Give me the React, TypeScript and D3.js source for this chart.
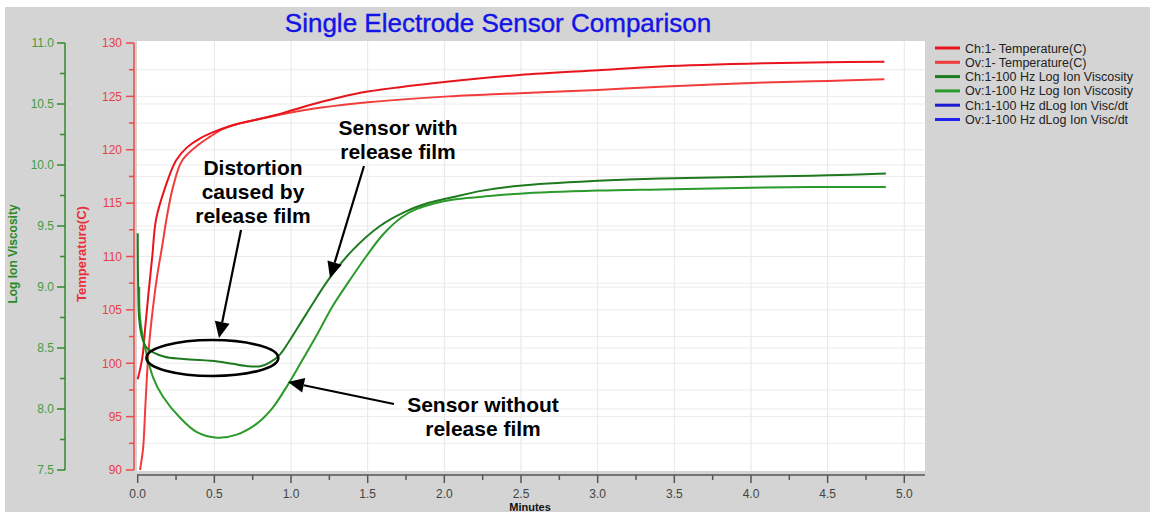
import React from 'react';
import * as d3 from 'd3';

// ---------- DATA ----------
const xTicks = [0, 0.5, 1, 1.5, 2, 2.5, 3, 3.5, 4, 4.5, 5];
const xMinorTicks = [0.25, 0.75, 1.25, 1.75, 2.25, 2.75, 3.25, 3.75, 4.25, 4.75];
const tempTicks = [90, 95, 100, 105, 110, 115, 120, 125, 130];
const tempMinorTicks = [92.5, 97.5, 102.5, 107.5, 112.5, 117.5, 122.5, 127.5];
const viscTicks = [7.5, 8.0, 8.5, 9.0, 9.5, 10.0, 10.5, 11.0];
const viscMinorTicks = [7.75, 8.25, 8.75, 9.25, 9.75, 10.25, 10.75];

// Ch:1 Temperature (minutes, °C)
const chTempMin = [0, 0.03, 0.05, 0.07, 0.095, 0.12, 0.18, 0.25, 0.32, 0.41, 0.52, 0.62, 0.8, 0.95, 1.1, 1.3, 1.5, 2.03, 2.49, 3.0, 3.41, 4.09, 4.5, 4.87];
const chTempVal = [98.5, 100.5, 103.5, 106.5, 110, 113.5, 116.5, 119.0, 120.2, 121.1, 121.8, 122.3, 122.9, 123.45, 124.1, 124.85, 125.45, 126.4, 127.0, 127.45, 127.8, 128.1, 128.2, 128.25];
// Ov:1 Temperature
const ovTempMin = [0.015, 0.035, 0.05, 0.07, 0.09, 0.125, 0.16, 0.19, 0.23, 0.29, 0.39, 0.47, 0.55, 0.62, 0.8, 0.95, 1.2, 1.5, 2.03, 2.49, 3.0, 3.41, 4.09, 4.5, 4.87];
const ovTempVal = [90, 92, 96, 101, 104, 108, 111, 113.7, 116.5, 119.0, 120.4, 121.2, 121.9, 122.3, 122.9, 123.35, 123.95, 124.45, 125.0, 125.3, 125.6, 125.9, 126.3, 126.45, 126.6];
// Ch:1 Log Ion Viscosity (sensor with release film)
const chViscMin = [0, 0.003, 0.01, 0.028, 0.06, 0.17, 0.3, 0.52, 0.62, 0.73, 0.8, 0.86, 0.93, 0.99, 1.1, 1.25, 1.4, 1.58, 1.75, 1.9, 2.05, 2.25, 2.49, 3.0, 3.41, 4.09, 4.5, 4.88];
const chViscVal = [9.44, 9.0, 8.73, 8.59, 8.5, 8.43, 8.41, 8.39, 8.37, 8.35, 8.35, 8.38, 8.45, 8.56, 8.78, 9.07, 9.3, 9.5, 9.62, 9.69, 9.735, 9.79, 9.83, 9.87, 9.89, 9.905, 9.915, 9.93];
// Ov:1 Log Ion Viscosity (sensor without release film)
const ovViscMin = [0.01, 0.015, 0.047, 0.1, 0.165, 0.275, 0.386, 0.516, 0.646, 0.777, 0.88, 0.98, 1.06, 1.17, 1.27, 1.38, 1.49, 1.6, 1.72, 1.82, 1.92, 2.05, 2.25, 2.49, 3.0, 3.41, 4.09, 4.5, 4.88];
const ovViscVal = [9.0, 8.75, 8.51, 8.26, 8.1, 7.93, 7.81, 7.765, 7.79, 7.88, 8.01, 8.2, 8.37, 8.61, 8.84, 9.05, 9.25, 9.43, 9.57, 9.64, 9.68, 9.715, 9.74, 9.765, 9.79, 9.8, 9.815, 9.82, 9.82];

const legendLabels = [
  'Ch:1- Temperature(C)',
  'Ov:1- Temperature(C)',
  'Ch:1-100 Hz Log Ion Viscosity',
  'Ov:1-100 Hz Log Ion Viscosity',
  'Ch:1-100 Hz dLog Ion Visc/dt',
  'Ov:1-100 Hz dLog Ion Visc/dt',
];

// Annotation anchors in data units: [minutes, log ion viscosity]
const ellipseCenter = [0.487, 8.418];
const ellipseHalf = [0.43, 0.147];

// ---------- STYLE ----------
const legendColors = ['#e8141c', '#f23c3c', '#1f7a1f', '#2a9a2a', '#1a1ad0', '#2222f0'];
const FONT = 'Liberation Sans, Arial, sans-serif';

export default function App() {
  const W = 1150, H = 512;
  const x = d3.scaleLinear().domain([0, 5]).range([137.7, 904.3]);
  const yT = d3.scaleLinear().domain([90, 130]).range([470, 43]);
  const yV = d3.scaleLinear().domain([7.5, 11]).range([470, 43]);

  const curve = d3.curveCatmullRom.alpha(0.5);
  const tempLine = d3.line<[number, number]>().x(d => x(d[0])).y(d => yT(d[1])).curve(curve);
  const viscLine = d3.line<[number, number]>().x(d => x(d[0])).y(d => yV(d[1])).curve(curve);
  const zip = (a: number[], b: number[]) => a.map((v, i) => [v, b[i]] as [number, number]);

  const plotL = 137, plotR = 925, plotT = 41, plotB = 471;
  const greenAxisX = 65, redAxisX = 134, xAxisY = 475;

  const annot = { fontFamily: FONT, fontWeight: 700, fontSize: 21, fill: '#000', textAnchor: 'middle' as const };

  const arrow = (x1: number, y1: number, x2: number, y2: number, key: string) => {
    const ang = Math.atan2(y2 - y1, x2 - x1);
    const L = 16, hw = 7.5;
    const bx = x2 - L * Math.cos(ang), by = y2 - L * Math.sin(ang);
    const px = -Math.sin(ang) * hw, py = Math.cos(ang) * hw;
    return (
      <g key={key}>
        <line x1={x1} y1={y1} x2={bx} y2={by} stroke="#000" strokeWidth={2.2} />
        <polygon points={`${x2},${y2} ${bx + px},${by + py} ${bx - px},${by - py}`} fill="#000" />
      </g>
    );
  };

  return (
    <svg width={W} height={H} style={{ position: 'absolute', left: 0, top: 0, display: 'block' }}>
      <rect x={0} y={0} width={W} height={H} fill="#ffffff" />
      <rect x={5} y={7} width={W - 5} height={H - 7} fill="#d4d4d4" />
      <rect x={plotL} y={plotT} width={plotR - plotL} height={plotB - plotT} fill="#ffffff" />

      {/* grid */}
      {xTicks.filter(t => t > 0).map(t => (
        <line key={'gx' + t} x1={x(t)} x2={x(t)} y1={plotT} y2={plotB} stroke="#e6e6e6" strokeWidth={1} />
      ))}
      {[...tempTicks, ...tempMinorTicks].filter(t => t > 90 && t < 130).map(t => (
        <line key={'gt' + t} x1={plotL} x2={plotR} y1={yT(t)} y2={yT(t)} stroke="#ebebeb" strokeWidth={1} />
      ))}
      {viscTicks.filter(t => t > 7.5 && t < 11).map(t => (
        <line key={'gv' + t} x1={plotL} x2={plotR} y1={yV(t)} y2={yV(t)} stroke="#ebebeb" strokeWidth={1} />
      ))}

      {/* title */}
      <text x={498} y={32} textAnchor="middle" fontFamily={FONT} fontSize={26} fill="#1414e6" stroke="#1414e6" strokeWidth={0.4}>Single Electrode Sensor Comparison</text>

      {/* green axis */}
      <line x1={greenAxisX} x2={greenAxisX} y1={yV(11)} y2={yV(7.5)} stroke="#2e8b2e" strokeWidth={1.5} />
      {viscTicks.map(t => (
        <g key={'vt' + t}>
          <line x1={greenAxisX - 8} x2={greenAxisX} y1={yV(t)} y2={yV(t)} stroke="#2e8b2e" strokeWidth={1.5} />
          <text x={greenAxisX - 11} y={yV(t)} dy="0.36em" textAnchor="end" fontFamily={FONT} fontSize={12} fill="#449c44">{t.toFixed(1)}</text>
        </g>
      ))}
      {viscMinorTicks.map(t => (
        <line key={'vm' + t} x1={greenAxisX - 5} x2={greenAxisX} y1={yV(t)} y2={yV(t)} stroke="#2e8b2e" strokeWidth={1.5} />
      ))}
      <text transform="translate(17,254) rotate(-90)" textAnchor="middle" fontFamily={FONT} fontSize={12} fontWeight={700} fill="#2a8a2a">Log Ion Viscosity</text>

      {/* red axis */}
      <line x1={redAxisX} x2={redAxisX} y1={yT(130)} y2={yT(90)} stroke="#ec4a4a" strokeWidth={1.5} />
      {tempTicks.map(t => (
        <g key={'tt' + t}>
          <line x1={redAxisX - 8} x2={redAxisX} y1={yT(t)} y2={yT(t)} stroke="#ec4a4a" strokeWidth={1.5} />
          <text x={redAxisX - 12} y={yT(t)} dy="0.36em" textAnchor="end" fontFamily={FONT} fontSize={12} fill="#e84048">{t}</text>
        </g>
      ))}
      {tempMinorTicks.map(t => (
        <line key={'tm' + t} x1={redAxisX - 5} x2={redAxisX} y1={yT(t)} y2={yT(t)} stroke="#ec4a4a" strokeWidth={1.5} />
      ))}
      <text transform="translate(86,254) rotate(-90)" textAnchor="middle" fontFamily={FONT} fontSize={13} fontWeight={700} fill="#e8303a">Temperature(C)</text>

      {/* x axis */}
      <line x1={plotL} x2={plotR} y1={xAxisY} y2={xAxisY} stroke="#555" strokeWidth={1.5} />
      {xTicks.map(t => (
        <g key={'xt' + t}>
          <line x1={x(t)} x2={x(t)} y1={xAxisY} y2={xAxisY + 8} stroke="#555" strokeWidth={1.5} />
          <text x={x(t)} y={498} textAnchor="middle" fontFamily={FONT} fontSize={12} fill="#444">{t.toFixed(1)}</text>
        </g>
      ))}
      {xMinorTicks.map(t => (
        <line key={'xm' + t} x1={x(t)} x2={x(t)} y1={xAxisY} y2={xAxisY + 5} stroke="#555" strokeWidth={1.5} />
      ))}
      <text x={530} y={511} textAnchor="middle" fontFamily={FONT} fontSize={11} fontWeight={700} fill="#111">Minutes</text>

      {/* series */}
      <path d={tempLine(zip(ovTempMin, ovTempVal)) || ''} fill="none" stroke={legendColors[1]} strokeWidth={2} />
      <path d={tempLine(zip(chTempMin, chTempVal)) || ''} fill="none" stroke={legendColors[0]} strokeWidth={2} />
      <path d={viscLine(zip(ovViscMin, ovViscVal)) || ''} fill="none" stroke={legendColors[3]} strokeWidth={2} />
      <path d={viscLine(zip(chViscMin, chViscVal)) || ''} fill="none" stroke={legendColors[2]} strokeWidth={2} />

      {/* annotations */}
      <ellipse cx={x(ellipseCenter[0])} cy={yV(ellipseCenter[1])}
        rx={x(ellipseCenter[0] + ellipseHalf[0]) - x(ellipseCenter[0])}
        ry={yV(ellipseCenter[1]) - yV(ellipseCenter[1] + ellipseHalf[1])}
        fill="none" stroke="#000" strokeWidth={2.6} />
      <text {...annot} x={253} y={175}>Distortion</text>
      <text {...annot} x={253} y={199}>caused by</text>
      <text {...annot} x={253} y={223}>release film</text>
      {arrow(241, 230, 219, 338, 'a1')}
      <text {...annot} x={398} y={135}>Sensor with</text>
      <text {...annot} x={398} y={159}>release film</text>
      {arrow(364, 166, 330, 278, 'a2')}
      <text {...annot} x={483} y={412}>Sensor without</text>
      <text {...annot} x={483} y={436}>release film</text>
      {arrow(394, 404, 288, 382, 'a3')}

      {/* legend */}
      {legendLabels.map((lab, i) => (
        <g key={lab}>
          <line x1={935} x2={960} y1={48 + i * 14.3} y2={48 + i * 14.3} stroke={legendColors[i]} strokeWidth={3} />
          <text x={965} y={48 + i * 14.3} dy="0.36em" fontFamily={FONT} fontSize={12.5} fill="#222">{lab}</text>
        </g>
      ))}
    </svg>
  );
}
